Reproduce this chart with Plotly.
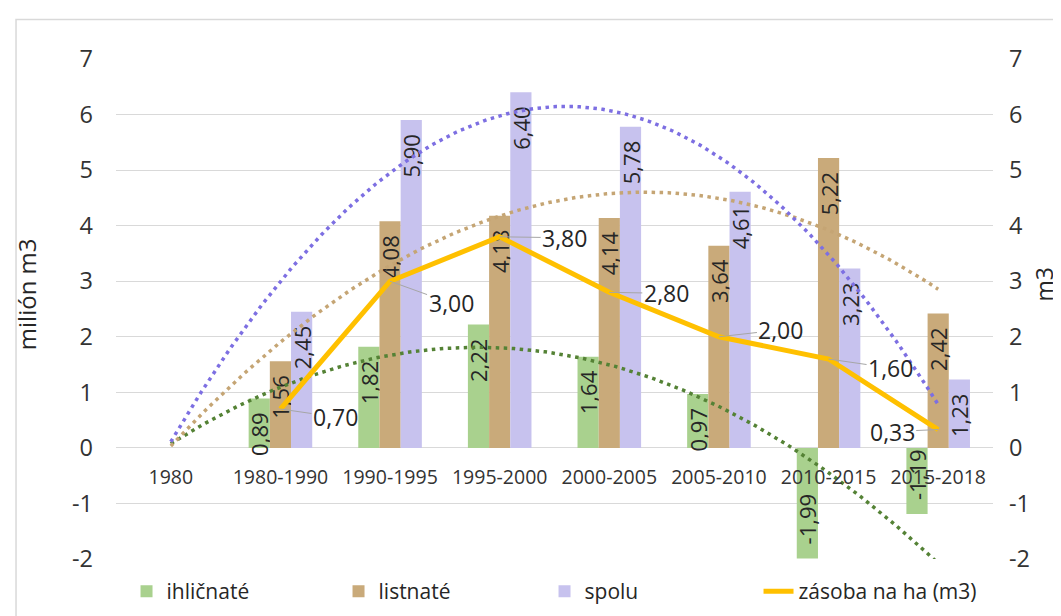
import numpy as np
import plotly.graph_objects as go

# ---------------- data ----------------
categories = ["1980", "1980-1990", "1990-1995", "1995-2000", "2000-2005",
              "2005-2010", "2010-2015", "2015-2018"]
ihlicnate = [0, 0.89, 1.82, 2.22, 1.64, 0.97, -1.99, -1.19]
listnate = [0, 1.56, 4.08, 4.18, 4.14, 3.64, 5.22, 2.42]
spolu = [0, 2.45, 5.90, 6.40, 5.78, 4.61, 3.23, 1.23]
zasoba = [None, 0.70, 3.00, 3.80, 2.80, 2.00, 1.60, 0.33]
y_ticks = [-2, -1, 0, 1, 2, 3, 4, 5, 6, 7]
y_ticktext = ["-2", "-1", "0", "1", "2", "3", "4", "5", "6", "7"]

# ---------------- style ----------------
FONT = "Open Sans"
C_GREEN, C_TAN, C_PURPLE, C_YELLOW = "#a9d18e", "#c9aa7a", "#c7c2ee", "#ffc000"
T_GREEN, T_TAN, T_PURPLE = "#548235", "#c5a574", "#7d6fe2"
TXT = "#262626"
TICK = "#333333"
GRID = "#d9d9d9"
# pixel offsets of the line's data labels relative to their points
LABEL_OFFSETS = [(55, 8), (61, 22), (65, 1), (57, 1), (62, -7), (62, 9), (-46, 2)]
LEGEND_WIDTHS = [167, 161, 169, 178]

xpos = np.arange(len(categories))


def fmt(v):
    return "" if (v is None or v == 0) else f"{v:.2f}".replace(".", ",")


def bar_label(v):
    s = fmt(v)
    if not s:
        return s
    # small gap between label and bar end, as in the source chart
    return s + "\u2002" if v > 0 else "\u2002" + s


fig = go.Figure()

bar_series = [("ihličnaté", ihlicnate, C_GREEN),
              ("listnaté", listnate, C_TAN),
              ("spolu", spolu, C_PURPLE)]
for i, (name, vals, col) in enumerate(bar_series):
    fig.add_trace(go.Bar(
        x=xpos, y=vals, name=name, marker=dict(color=col, line=dict(width=0)),
        text=[bar_label(v) for v in vals], textposition="inside",
        insidetextanchor="end", textangle=-90, constraintext="none",
        textfont=dict(family=FONT, size=22, color=TXT),
        hoverinfo="skip", cliponaxis=False, legendwidth=LEGEND_WIDTHS[i],
    ))

# polynomial (order 2) trendlines of the bar series, as in the source chart
xs = np.linspace(0, len(categories) - 1, 200)
for vals, col in [(ihlicnate, T_GREEN), (listnate, T_TAN), (spolu, T_PURPLE)]:
    coef = np.polyfit(xpos, np.array(vals, dtype=float), 2)
    fig.add_trace(go.Scatter(
        x=xs, y=np.polyval(coef, xs), mode="lines", showlegend=False,
        line=dict(color=col, width=3.5, dash="3.5px,4.5px"), hoverinfo="skip",
    ))

fig.add_trace(go.Scatter(
    x=xpos, y=zasoba, name="zásoba na ha (m3)", mode="lines",
    line=dict(color=C_YELLOW, width=5), yaxis="y2", hoverinfo="skip",
    legendwidth=LEGEND_WIDTHS[3],
))

annotations = []
k = 0
for xi, v in zip(xpos, zasoba):
    if v is None:
        continue
    ax, ay = LABEL_OFFSETS[k]
    k += 1
    annotations.append(dict(
        x=xi, y=v, xref="x", yref="y2", text=fmt(v), showarrow=True,
        arrowhead=0, arrowwidth=1, arrowcolor="#a6a6a6", standoff=0,
        ax=ax, ay=ay, font=dict(family=FONT, size=23, color=TXT),
    ))

annotations.append(dict(text="milión m3", xref="paper", yref="paper",
                        x=-0.102, y=0.5287, xanchor="center", yanchor="middle",
                        showarrow=False, textangle=-90,
                        font=dict(family=FONT, size=24, color=TXT)))
annotations.append(dict(text="m3", xref="paper", yref="paper",
                        x=1.058, y=0.5485, xanchor="center", yanchor="middle",
                        showarrow=False, textangle=-90,
                        font=dict(family=FONT, size=23, color=TXT)))

fig.update_layout(
    width=1061, height=616, autosize=False,
    margin=dict(l=108, r=76, t=51, b=60),
    paper_bgcolor="white", plot_bgcolor="white",
    font=dict(family=FONT, color=TICK),
    barmode="group", bargap=0.42, bargroupgap=0,
    separators=", ",
    xaxis=dict(
        tickmode="array", tickvals=list(xpos), ticktext=categories,
        range=[-0.5, len(categories) - 0.5], showgrid=False, zeroline=False,
        showline=False, anchor="free", position=2 / 9,
        ticklabelstandoff=16, tickfont=dict(family=FONT, size=19.5, color=TICK),
    ),
    yaxis=dict(
        range=[-2, 7], tickmode="array", tickvals=y_ticks, ticktext=y_ticktext,
        showgrid=True, gridcolor=GRID, gridwidth=1, zeroline=False,
        showline=False, ticklabelstandoff=22,
        tickfont=dict(family=FONT, size=23.5, color=TICK),
    ),
    yaxis2=dict(
        range=[-2, 7], tickmode="array", tickvals=y_ticks, ticktext=y_ticktext,
        overlaying="y", side="right", showgrid=False, zeroline=False,
        showline=False, ticklabelstandoff=15,
        tickfont=dict(family=FONT, size=23.5, color=TICK),
    ),
    legend=dict(
        orientation="h", x=0.012, xanchor="left", y=-0.024, yanchor="top",
        font=dict(family=FONT, size=21, color=TXT),
        bgcolor="rgba(0,0,0,0)", traceorder="normal",
    ),
    annotations=annotations,
    shapes=[dict(type="rect", xref="paper", yref="paper",
                 x0=-0.114, x1=1.2, y0=-0.3, y1=1.079,
                 line=dict(color=GRID, width=1.5), layer="below")],
    showlegend=True,
)

fig.write_html("out.html")
